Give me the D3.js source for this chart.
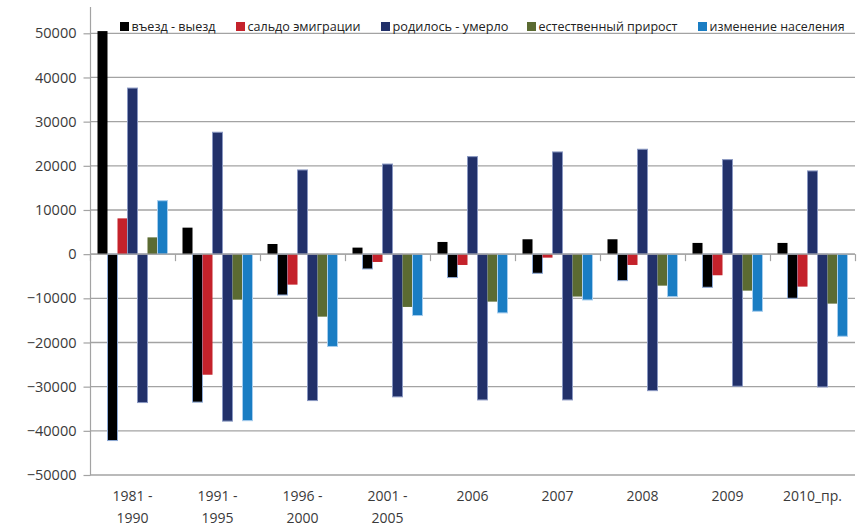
<!DOCTYPE html>
<html>
<head>
<meta charset="utf-8">
<script src="https://cdn.jsdelivr.net/npm/d3@7"></script>
<style>
  html, body { margin: 0; padding: 0; background: #fff; }
  svg { display: block; }
</style>
</head>
<body>
<svg id="chart" width="861" height="528"></svg>
<script>
// ---------------- DATA ----------------
const categories = ["1981 -\n1990", "1991 -\n1995", "1996 -\n2000", "2001 -\n2005", "2006", "2007", "2008", "2009", "2010_пр."];

const vezd   = [50500, 6000, 2300, 1480, 2760, 3370, 3370, 2540, 2540];          // въезд
const vyezd  = [-42200, -33500, -9250, -3350, -5300, -4330, -6000, -7500, -9990]; // выезд
const saldo  = [8100, -27300, -6900, -1770, -2450, -790, -2450, -4780, -7350];    // сальдо эмиграции
const rodil  = [37600, 27600, 19060, 20400, 22080, 23140, 23750, 21400, 18840];   // родилось
const umerlo = [-33600, -37800, -33150, -32300, -33000, -33000, -30900, -29900, -30070]; // умерло
const estPr  = [3800, -10300, -14150, -11950, -10750, -9600, -7130, -8260, -11200];       // естественный прирост
const izmen  = [12100, -37700, -20900, -13900, -13300, -10370, -9620, -12930, -18590];    // изменение населения

const yTicks = [50000, 40000, 30000, 20000, 10000, 0, -10000, -20000, -30000, -40000, -50000];

const legendNames = ["въезд - выезд", "сальдо эмиграции", "родилось - умерло", "естественный прирост", "изменение населения"];

// ---------------- STYLE ----------------
const C = { black: "#000000", red: "#c4222b", navy: "#22316a", green: "#5b6b32", blue: "#1a7dc3" };

const series = [
  { key: "vezd",   values: vezd,   fill: C.black, stroke: "none" },
  { key: "vyezd",  values: vyezd,  fill: C.black, stroke: "#8eaad6" },
  { key: "saldo",  values: saldo,  fill: C.red,   stroke: "none" },
  { key: "rodil",  values: rodil,  fill: C.navy,  stroke: "#8a98c2" },
  { key: "umerlo", values: umerlo, fill: C.navy,  stroke: "#8a98c2" },
  { key: "estPr",  values: estPr,  fill: C.green, stroke: "none" },
  { key: "izmen",  values: izmen,  fill: C.blue,  stroke: "#a6cdee" }
];
const legendColors = [C.black, C.red, C.navy, C.green, C.blue];

const svg = d3.select("#chart");
const plotLeft = 90, plotRight = 855, plotTop = 33.3, plotBottom = 475;
const gridColor = "#a3a3a3";
const textColor = "#3a3a3a";

const x0 = d3.scaleBand().domain(categories).range([plotLeft, plotRight]).padding(0);
const x1 = d3.scaleBand().domain(series.map(s => s.key))
  .range([0, x0.bandwidth()]).paddingInner(0).paddingOuter(0.75);
const y = d3.scaleLinear().domain([-50000, 50000]).range([plotBottom, plotTop]);

// gridlines
svg.append("g").selectAll("line").data(yTicks).join("line")
  .attr("x1", plotLeft).attr("x2", plotRight)
  .attr("y1", d => y(d)).attr("y2", d => y(d))
  .attr("stroke", gridColor).attr("stroke-width", 1.3);

// y axis line
svg.append("line").attr("x1", plotLeft + 0.5).attr("x2", plotLeft + 0.5)
  .attr("y1", 7).attr("y2", plotBottom).attr("stroke", gridColor).attr("stroke-width", 1.2);

// y axis
const yAxis = d3.axisLeft(y).tickValues(yTicks).tickSize(7).tickPadding(7).tickFormat(d3.format("d"));
const gy = svg.append("g").attr("transform", `translate(${plotLeft + 0.5},0)`).call(yAxis);
gy.select(".domain").remove();
gy.selectAll(".tick line").attr("stroke", gridColor).attr("stroke-width", 1.2);
gy.selectAll(".tick text").attr("fill", textColor)
  .style("font-family", "'Open Sans', sans-serif").style("font-size", "14.5px");

// bars
const groups = svg.append("g").selectAll("g").data(categories).join("g")
  .attr("transform", d => `translate(${x0(d)},0)`);
groups.selectAll("rect").data((c, i) => series.map(s => ({ s, v: s.values[i] }))).join("rect")
  .attr("x", d => x1(d.s.key))
  .attr("width", x1.bandwidth())
  .attr("y", d => y(Math.max(0, d.v)))
  .attr("height", d => Math.abs(y(d.v) - y(0)))
  .attr("fill", d => d.s.fill)
  .attr("stroke", d => d.s.stroke)
  .attr("stroke-width", 1);

// zero axis with category boundary ticks
svg.append("line").attr("x1", plotLeft).attr("x2", plotRight)
  .attr("y1", y(0)).attr("y2", y(0)).attr("stroke", gridColor).attr("stroke-width", 1.3);
const boundaries = categories.map(c => x0(c)).concat([plotRight]);
svg.append("g").selectAll("line").data(boundaries).join("line")
  .attr("x1", d => d + 0.5).attr("x2", d => d + 0.5)
  .attr("y1", y(0)).attr("y2", y(0) + 7)
  .attr("stroke", gridColor).attr("stroke-width", 1.2);

// category labels
const xl = svg.append("g").selectAll("text").data(categories).join("text")
  .attr("x", d => x0(d) + x0.bandwidth() / 2)
  .attr("y", 501)
  .attr("text-anchor", "middle")
  .attr("fill", textColor)
  .style("font-family", "'Open Sans', sans-serif").style("font-size", "14px");
xl.selectAll("tspan").data(d => d.split("\n")).join("tspan")
  .attr("x", function() { return this.parentNode.getAttribute("x"); })
  .attr("dy", (d, i) => i === 0 ? 0 : 21.5)
  .text(d => d);

// legend
const legendX = [120, 236, 381, 527, 698];
const legendW = [84, 113, 116, 139, 135];
const lg = svg.append("g").selectAll("g").data(legendNames).join("g")
  .attr("transform", (d, i) => `translate(${legendX[i]},22)`);
lg.append("rect").attr("width", 9).attr("height", 9).attr("fill", (d, i) => legendColors[i]);
lg.append("text").attr("x", 11.5).attr("y", 8.8)
  .attr("fill", "#222")
  .attr("textLength", (d, i) => legendW[i]).attr("lengthAdjust", "spacingAndGlyphs")
  .style("font-family", "'Open Sans', sans-serif").style("font-size", "13px").style("font-weight", "500")
  .text(d => d);
</script>
</body>
</html>
